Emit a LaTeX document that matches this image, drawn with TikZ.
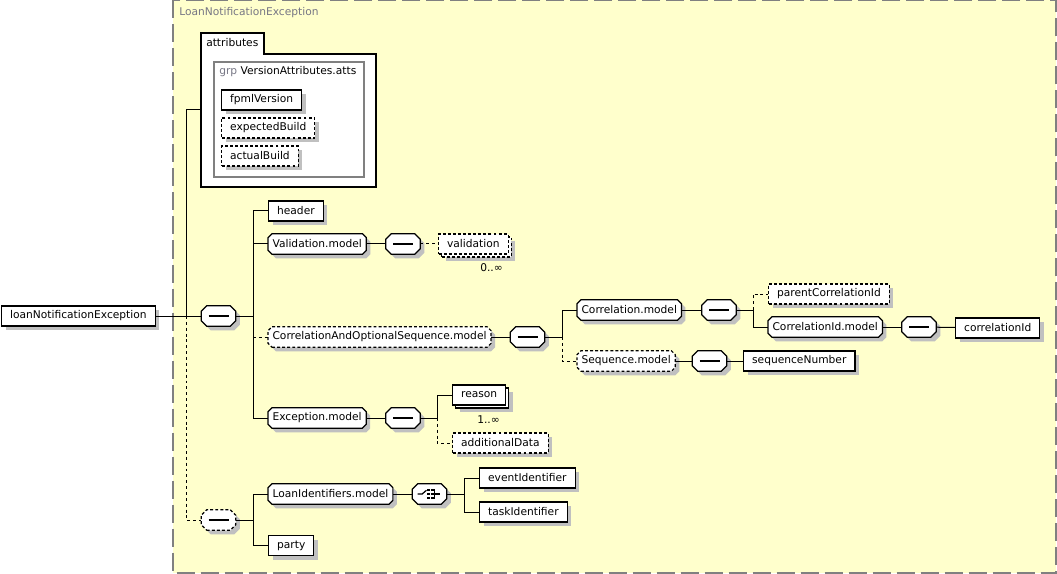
\documentclass[tikz,border=0pt]{standalone}
\usepackage{fontspec}
\setmainfont{DejaVu Sans}
\usetikzlibrary{shadows}

\definecolor{paneyellow}{RGB}{255,255,204}
\definecolor{panegray}{RGB}{128,128,128}
\definecolor{titlegray}{RGB}{118,118,132}
\definecolor{shadowgray}{RGB}{192,192,192}

% box with cut corners
\makeatletter
\newdimen\octoxa \newdimen\octoya \newdimen\octoxb \newdimen\octoyb \newdimen\octoc
\pgfkeys{/pgf/octo cut/.initial=3pt}
\pgfdeclareshape{octo}{%
  \inheritsavedanchors[from=rectangle]%
  \inheritanchorborder[from=rectangle]%
  \inheritanchor[from=rectangle]{center}%
  \inheritanchor[from=rectangle]{north}%
  \inheritanchor[from=rectangle]{south}%
  \inheritanchor[from=rectangle]{east}%
  \inheritanchor[from=rectangle]{west}%
  \inheritanchor[from=rectangle]{north east}%
  \inheritanchor[from=rectangle]{north west}%
  \inheritanchor[from=rectangle]{south east}%
  \inheritanchor[from=rectangle]{south west}%
  \backgroundpath{%
    \southwest \octoxa=\pgf@x \octoya=\pgf@y
    \northeast \octoxb=\pgf@x \octoyb=\pgf@y
    \pgfmathsetlength\octoc{\pgfkeysvalueof{/pgf/octo cut}}%
    \pgfpathmoveto{\pgfqpoint{\dimexpr\octoxa+\octoc\relax}{\octoya}}%
    \pgfpathlineto{\pgfqpoint{\dimexpr\octoxb-\octoc\relax}{\octoya}}%
    \pgfpathlineto{\pgfqpoint{\octoxb}{\dimexpr\octoya+\octoc\relax}}%
    \pgfpathlineto{\pgfqpoint{\octoxb}{\dimexpr\octoyb-\octoc\relax}}%
    \pgfpathlineto{\pgfqpoint{\dimexpr\octoxb-\octoc\relax}{\octoyb}}%
    \pgfpathlineto{\pgfqpoint{\dimexpr\octoxa+\octoc\relax}{\octoyb}}%
    \pgfpathlineto{\pgfqpoint{\octoxa}{\dimexpr\octoyb-\octoc\relax}}%
    \pgfpathlineto{\pgfqpoint{\octoxa}{\dimexpr\octoya+\octoc\relax}}%
    \pgfpathclose
  }%
}
\makeatother

\tikzset{
  every node/.style={font=\fontsize{8}{10}\selectfont},
  optional/.style={dash pattern=on 2.2pt off 1.6pt},
  wire/.style={line width=0.75pt},
  wireopt/.style={wire,dash pattern=on 2.2pt off 2.2pt},
  boxshadow/.style={general shadow={shadow xshift=3pt,shadow yshift=-3pt,fill=shadowgray}},
  plainbox/.style={draw,fill=white,line width=0.9pt,minimum height=15pt,inner xsep=6.4pt,inner ysep=0pt},
  elem/.style={plainbox,boxshadow},
  elemmany/.style={plainbox,
    general shadow={shadow xshift=5.25pt,shadow yshift=-5.25pt,fill=shadowgray},
    general shadow={shadow xshift=2.25pt,shadow yshift=-2.25pt,fill=white,draw=black,line width=0.9pt,#1}},
  elemmany/.default={solid},
  modelref/.style={elem,shape=octo,octo cut=3pt,outer sep=0pt,inner xsep=3.4pt,minimum height=15.5pt},
  compositor/.style={draw,fill=white,line width=0.9pt,shape=octo,octo cut=4.2pt,outer sep=0pt,
    minimum width=26pt,minimum height=15.5pt,inner sep=0pt,boxshadow},
  seqbox/.style={compositor,path picture={
    \draw[solid,black,line width=0.9pt] ([xshift=-7.5pt]path picture bounding box.center)
      -- ([xshift=7.5pt]path picture bounding box.center);
    \foreach \dx in {-2.7,0,2.7}
      \fill[black] ([xshift=\dx pt]path picture bounding box.center) +(-1.05pt,-1.05pt) rectangle +(1.05pt,1.05pt);
  }},
  choicebox/.style={compositor,path picture={
    \coordinate (cc) at (path picture bounding box.center);
    \draw[solid,black,line width=0.9pt] ([xshift=-9pt]cc) -- ([xshift=-5.5pt]cc)
      -- ([xshift=-2.3pt,yshift=2.8pt]cc);
    \foreach \dy in {-3,0,3}
      \fill[black] ([xshift=-0.6pt,yshift=\dy pt]cc) +(-1.05pt,-1.05pt) rectangle +(1.05pt,1.05pt);
    \draw[solid,black,line width=0.9pt] ([xshift=0.8pt,yshift=3pt]cc) -- ([xshift=3.6pt,yshift=3pt]cc)
      -- ([xshift=3.6pt,yshift=-3pt]cc) -- ([xshift=0.8pt,yshift=-3pt]cc)
      ([xshift=0.8pt]cc) -- ([xshift=7.5pt]cc);
  }}
}

\begin{document}
\begin{tikzpicture}[x=0.75pt,y=-0.75pt]
  \useasboundingbox (0,0) rectangle (1057,574);
  % complex type pane
  \draw[panegray,line width=1.5pt,dash pattern=on 13.5pt off 4.5pt,fill=paneyellow]
    (173,0.5) rectangle (1056,573);
  \node[anchor=west,inner sep=0pt,text=titlegray] (paneTitle) at (179,13) {LoanNotificationException};

  % attributes
  \draw[fill=white,line width=0.9pt] (201,187) -- (201,33) -- (264,33) -- (264,54)
    -- (376,54) -- (376,187) -- cycle;
  \node[anchor=west,inner sep=0pt] (attrTitle) at (206,43) {attributes};
  \draw[panegray,fill=white,line width=0.9pt] (214,62) rectangle (364,177);
  \node[anchor=west,inner sep=0pt] (grpTitle) at (219,72) {\textcolor{titlegray}{grp} VersionAttributes.atts};
  \node[elem,anchor=west] (fpmlVersion) at (221,100) {fpmlVersion};
  \node[elem,optional,anchor=west] (expectedBuild) at (221,128) {expectedBuild};
  \node[elem,optional,anchor=west] (actualBuild) at (221,156) {actualBuild};
  \coordinate (attrIn) at (201,110);

  % root and main sequence
  \node[elem,anchor=west] (root) at (1,316) {loanNotificationException};
  \node[seqbox] (mainSeq) at (218.5,316) {};
  \node[elem,anchor=west] (header) at (268,211) {header};
  \node[modelref,anchor=west] (validationModel) at (268,244) {Validation.model};
  \node[seqbox] (validationSeq) at (403,244) {};
  \node[elemmany=optional,optional,anchor=west] (validation) at (438,244) {validation};
  \node[anchor=east,inner sep=0pt] (validationMult) at (503,268) {0..∞};
  \node[modelref,optional,anchor=west] (corrSeqModel) at (268,337) {CorrelationAndOptionalSequence.model};
  \node[seqbox] (corrSeqSeq) at (527.5,337) {};
  \node[modelref,anchor=west] (corrModel) at (577,310) {Correlation.model};
  \node[seqbox] (corrSeq) at (719,310) {};
  \node[elem,optional,anchor=west] (parentCorrId) at (768,294) {parentCorrelationId};
  \node[modelref,anchor=west] (corrIdModel) at (768,327) {CorrelationId.model};
  \node[seqbox] (corrIdSeq) at (919,327) {};
  \node[elem,anchor=west] (corrId) at (955,328) {correlationId};
  \node[modelref,optional,anchor=west] (seqModel) at (577,361) {Sequence.model};
  \node[seqbox] (seqModelSeq) at (709.5,361) {};
  \node[elem,anchor=west] (seqNumber) at (743,361) {sequenceNumber};
  \node[modelref,anchor=west] (excModel) at (268,418) {Exception.model};
  \node[seqbox] (excSeq) at (403,418) {};
  \node[elemmany,anchor=west] (reason) at (452,395) {reason};
  \node[anchor=east,inner sep=0pt] (reasonMult) at (500,420) {1..∞};
  \node[elem,optional,anchor=west] (addData) at (452,443) {additionalData};

  % loan identifiers
  \node[seqbox,optional] (idSeq) at (218.5,520) {};
  \node[modelref,anchor=west] (loanIdModel) at (268,494) {LoanIdentifiers.model};
  \node[choicebox] (loanIdChoice) at (429.5,494) {};
  \node[elem,anchor=west] (eventId) at (479,478) {eventIdentifier};
  \node[elem,anchor=west] (taskId) at (479,512) {taskIdentifier};
  \node[elem,anchor=west] (party) at (268,545.5) {party};

  % junctions
  \coordinate (jRoot) at (186,316);
  \coordinate (jMain) at (253,316);
  \coordinate (jCorrSeq) at (562,337);
  \coordinate (jCorr) at (753,310);
  \coordinate (jExc) at (437,418);
  \coordinate (jIds) at (253,520);
  \coordinate (jChoice) at (464,494);

  % connectors
  \draw[wire] (root) -- (mainSeq);
  \draw[wire] (jRoot) |- (attrIn);
  \draw[wireopt] (jRoot) |- (idSeq);
  \draw[wire] (mainSeq) -- (jMain);
  \draw[wire] (jMain) |- (header);
  \draw[wire] (jMain) |- (validationModel);
  \draw[wire] (jMain) |- (excModel);
  \draw[wireopt] (jMain |- corrSeqModel) -- (corrSeqModel);
  \draw[wire] (validationModel) -- (validationSeq);
  \draw[wireopt] (validationSeq) -- (validation);
  \draw[wire] (corrSeqModel) -- (corrSeqSeq);
  \draw[wire] (corrSeqSeq) -- (jCorrSeq);
  \draw[wire] (jCorrSeq) |- (corrModel);
  \draw[wireopt] (jCorrSeq) |- (seqModel);
  \draw[wire] (corrModel) -- (corrSeq);
  \draw[wire] (corrSeq) -- (jCorr);
  \draw[wireopt] (jCorr) |- (parentCorrId);
  \draw[wire] (jCorr) |- (corrIdModel);
  \draw[wire] (corrIdModel) -- (corrIdSeq);
  \draw[wire] (corrIdSeq) -- (corrId);
  \draw[wire] (seqModel) -- (seqModelSeq);
  \draw[wire] (seqModelSeq) -- (seqNumber);
  \draw[wire] (excModel) -- (excSeq);
  \draw[wire] (excSeq) -- (jExc);
  \draw[wire] (jExc) |- (reason);
  \draw[wireopt] (jExc) |- (addData);
  \draw[wire] (idSeq) -- (jIds);
  \draw[wire] (jIds) |- (loanIdModel);
  \draw[wire] (jIds) |- (party);
  \draw[wire] (loanIdModel) -- (loanIdChoice);
  \draw[wire] (loanIdChoice) -- (jChoice);
  \draw[wire] (jChoice) |- (eventId);
  \draw[wire] (jChoice) |- (taskId);
\end{tikzpicture}
\end{document}
